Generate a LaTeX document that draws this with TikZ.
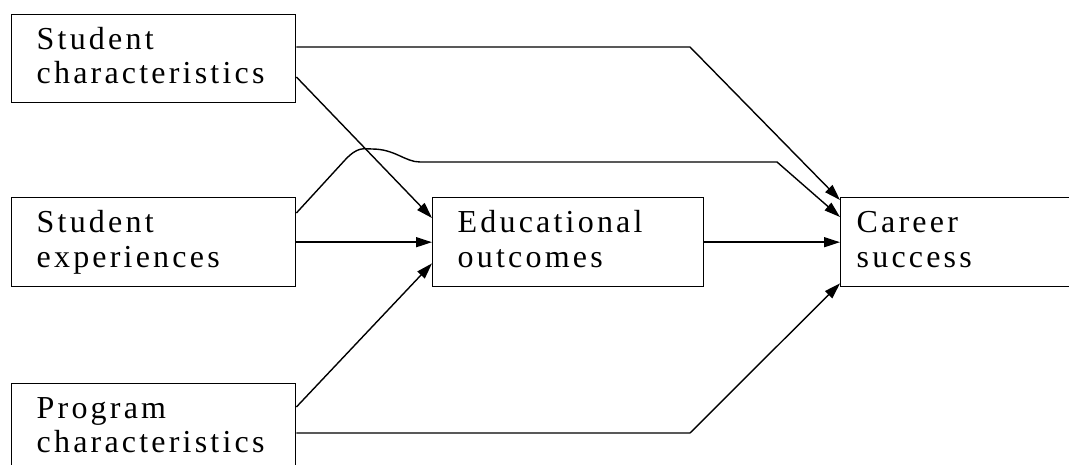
\documentclass[tikz,border=0pt]{standalone}
\usepackage{fontspec}
\setmainfont{Liberation Serif}[LetterSpace=10]
\usetikzlibrary{arrows.meta, calc}

\begin{document}
\begin{tikzpicture}[
        x=1pt, y=-1pt,
        factor/.style={rectangle, draw=black, line width=1.4pt, anchor=north west, inner xsep=25pt, inner ysep=0pt,
            align=left, font=\rmfamily\fontsize{32}{34.5}\selectfont,
            execute at begin node={\rule{0pt}{23pt}}, execute at end node={\rule[-7pt]{0pt}{7pt}}},
        link/.style={-{Triangle[length=16pt, width=10pt]}, line width=1.4pt, draw=black}
    ]
        \useasboundingbox (0,0) rectangle (1069,465);
        \begin{scope}
        \clip (0,0) rectangle (1069,465);
        \node[factor, text width=234pt, minimum height=88pt] (schar) at (11,14) {Student\\characteristics};
        \node[factor, text width=234pt, minimum height=89pt] (sexp) at (11,197) {Student\\experiences};
        \node[factor, text width=234pt, minimum height=88pt] (pchar) at (11,383) {Program\\characteristics};
        \node[factor, text width=221pt, minimum height=89pt] (eout) at (432,197) {Educational\\outcomes};
        \node[factor, inner xsep=16pt, text width=228pt, minimum height=89pt] (csucc) at (840,197) {Career\\success};
        \end{scope}
        % student characteristics
        \draw[link] ($(schar.north east)+(0,33)$) -- (690,47) -- ($(csucc.north west)+(0,3)$);
        \draw[link] ($(schar.north east)+(0,63)$) -- ($(eout.north west)+(0,21)$);
        % student experiences
        \draw[link] ($(sexp.north east)+(0,16)$) -- (345,160) .. controls (358,146) and (364,149) .. (372,149)
            .. controls (395,149) and (405,162) .. (420,162) -- (777,162) -- ($(csucc.north west)+(0,20)$);
        \draw[link] (sexp.east) -- (eout.west);
        \draw[link] (eout.east) -- (csucc.west);
        % program characteristics
        \draw[link] ($(pchar.north east)+(0,24)$) -- ($(eout.south west)+(0,-24)$);
        \draw[link] ($(pchar.north east)+(0,50)$) -- (690,433) -- ($(csucc.south west)+(0,-4)$);
    \end{tikzpicture}
\end{document}
